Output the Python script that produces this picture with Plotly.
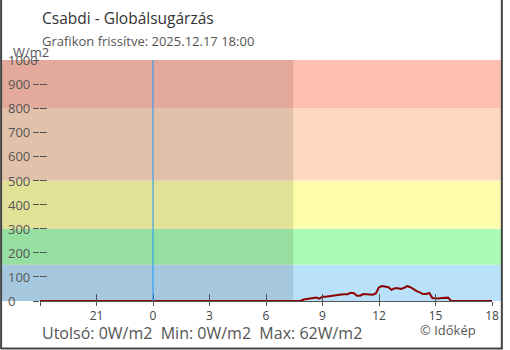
import plotly.graph_objects as go

# ---- data ----
times = ["2025-12-16 18:00", "2025-12-17 07:50", "2025-12-17 08:00", "2025-12-17 08:10",
         "2025-12-17 08:20", "2025-12-17 08:30", "2025-12-17 08:40", "2025-12-17 08:50",
         "2025-12-17 09:00", "2025-12-17 09:10", "2025-12-17 09:20", "2025-12-17 09:30",
         "2025-12-17 09:40", "2025-12-17 09:50", "2025-12-17 10:00", "2025-12-17 10:10",
         "2025-12-17 10:20", "2025-12-17 10:30", "2025-12-17 10:40", "2025-12-17 10:50",
         "2025-12-17 11:00", "2025-12-17 11:10", "2025-12-17 11:20", "2025-12-17 11:30",
         "2025-12-17 11:40", "2025-12-17 11:50", "2025-12-17 12:00", "2025-12-17 12:10",
         "2025-12-17 12:20", "2025-12-17 12:30", "2025-12-17 12:40", "2025-12-17 12:50",
         "2025-12-17 13:00", "2025-12-17 13:10", "2025-12-17 13:20", "2025-12-17 13:30",
         "2025-12-17 13:40", "2025-12-17 13:50", "2025-12-17 14:00", "2025-12-17 14:10",
         "2025-12-17 14:20", "2025-12-17 14:30", "2025-12-17 14:40", "2025-12-17 14:50",
         "2025-12-17 15:00", "2025-12-17 15:10", "2025-12-17 15:20", "2025-12-17 15:30",
         "2025-12-17 15:40", "2025-12-17 15:50", "2025-12-17 16:00", "2025-12-17 18:00"]
values = [0, 0, 6, 8,
          10, 14, 14, 10,
          18, 18, 20, 22,
          26, 25, 27, 28,
          28, 34, 32, 22,
          22, 29, 28, 26,
          26, 31, 57, 62,
          60, 57, 46, 53,
          53, 50, 55, 62,
          57, 48, 41, 36,
          29, 29, 33, 12,
          10, 10, 12, 14,
          14, 0, 0, 0]

x_tick_vals = ["2025-12-16 18:00", "2025-12-16 21:00", "2025-12-17 00:00", "2025-12-17 03:00",
               "2025-12-17 06:00", "2025-12-17 09:00", "2025-12-17 12:00", "2025-12-17 15:00",
               "2025-12-17 18:00"]
x_tick_text = ["", "21", "0", "3", "6", "9", "12", "15", "18"]
y_ticks = [0, 100, 200, 300, 400, 500, 600, 700, 800, 900, 1000]

band_edges = [0, 150, 300, 500, 800, 1000]
band_colors = ["#bae1fa", "#aafbb5", "#fefdab", "#fed9bf", "#ffbfb0"]
sunrise = "2025-12-17 07:27"
midnight = "2025-12-17 00:00"
x_range = ["2025-12-16 18:00", "2025-12-17 18:00"]

title = "Csabdi - Globálsugárzás"
subtitle = "Grafikon frissítve: 2025.12.17 18:00"
footer = "Utolsó: 0W/m2  Min: 0W/m2  Max: 62W/m2"
credit = "© Időkép"
unit = "W/m2"

# ---- layout geometry ----
W, H = 510, 350
ML, MR, MT, MB = 40, 11, 60, 49
PW = W - ML - MR
PH = H - MT - MB

def px(xp):
    return (xp - ML) / PW

def py(yp):
    return (H - MB - yp) / PH

FONT = "Open Sans"

fig = go.Figure()
fig.add_trace(go.Scatter(x=times, y=values, mode="lines",
                         line=dict(color="#8b0000", width=2), hoverinfo="skip",
                         showlegend=False))
fig.add_trace(go.Scatter(x=[None], y=[None], xaxis="x2", yaxis="y2",
                         showlegend=False, hoverinfo="skip"))

shapes = []
for i, c in enumerate(band_colors):
    shapes.append(dict(type="rect", xref="paper", yref="y", layer="below",
                       x0=px(1), x1=px(508), y0=band_edges[i], y1=band_edges[i + 1],
                       fillcolor=c, line=dict(width=0)))
# night shading (left margin part + plot part)
shapes.append(dict(type="rect", xref="paper", yref="y", layer="below",
                   x0=px(1), x1=0, y0=0, y1=1000,
                   fillcolor="rgba(0,0,0,0.11)", line=dict(width=0)))
shapes.append(dict(type="rect", xref="x", yref="y", layer="below",
                   x0=x_range[0], x1=sunrise, y0=0, y1=1000,
                   fillcolor="rgba(0,0,0,0.11)", line=dict(width=0)))
# midnight line
shapes.append(dict(type="line", xref="x", yref="y", layer="above",
                   x0=midnight, x1=midnight, y0=0, y1=1000,
                   line=dict(color="#2196f3", width=1)))
# frame
for (x0, y0, x1, y1) in [(0.5, 0, 0.5, 349), (509, 0, 509, 349), (0, 348.5, 510, 348.5)]:
    shapes.append(dict(type="line", xref="paper", yref="paper",
                       x0=px(x0), x1=px(x1), y0=py(y0), y1=py(y1),
                       line=dict(color="#444", width=2)))

annotations = [
    dict(text=title, x=px(40), y=py(18), xref="paper", yref="paper", xanchor="left",
         yanchor="middle", showarrow=False, font=dict(family=FONT, size=15.5, color="#333")),
    dict(text=subtitle, x=px(40), y=py(41), xref="paper", yref="paper", xanchor="left",
         yanchor="middle", showarrow=False, font=dict(family=FONT, size=13, color="#555")),
    dict(text=unit, x=px(11), y=py(52), xref="paper", yref="paper", xanchor="left",
         yanchor="middle", showarrow=False, font=dict(family=FONT, size=13, color="#555")),
    dict(text=footer, x=px(40), y=py(333), xref="paper", yref="paper", xanchor="left",
         yanchor="middle", showarrow=False, font=dict(family=FONT, size=16, color="#555")),
    dict(text=credit, x=px(424), y=py(330), xref="paper", yref="paper", xanchor="left",
         yanchor="middle", showarrow=False, font=dict(family=FONT, size=13, color="#555")),
]
for v in y_ticks:
    annotations.append(dict(text=str(v), x=px(5), y=v, xref="paper", yref="y",
                            xanchor="left", yanchor="middle", showarrow=False,
                            font=dict(family=FONT, size=13, color="#555")))

fig.update_layout(
    width=W, height=H, autosize=False, margin=dict(l=ML, r=MR, t=MT, b=MB, pad=0),
    paper_bgcolor="white", plot_bgcolor="rgba(0,0,0,0)",
    font=dict(family=FONT, color="#444"),
    showlegend=False, shapes=shapes, annotations=annotations,
    xaxis=dict(type="date", range=x_range, tickvals=x_tick_vals, ticktext=x_tick_text,
               ticks="outside", ticklen=4, tickcolor="#555", tickwidth=1,
               showline=True, linecolor="#555", linewidth=1, showgrid=False, zeroline=False,
               tickfont=dict(family=FONT, size=12, color="#444"), fixedrange=True),
    xaxis2=dict(type="date", range=x_range, overlaying="x", tickvals=x_tick_vals[1:],
                ticks="inside", ticklen=7, tickcolor="#555", showticklabels=False,
                showgrid=False, zeroline=False, showline=False),
    yaxis=dict(range=[0, 1000], tickvals=y_ticks, showticklabels=False,
               ticks="outside", ticklen=6, tickcolor="#555", showgrid=False,
               zeroline=False, showline=False, fixedrange=True),
    yaxis2=dict(range=[0, 1000], overlaying="y", tickvals=y_ticks, showticklabels=False,
                ticks="inside", ticklen=7, tickcolor="#555", showgrid=False,
                zeroline=False, showline=False),
)

fig.write_html("out.html", config={"displayModeBar": False})
